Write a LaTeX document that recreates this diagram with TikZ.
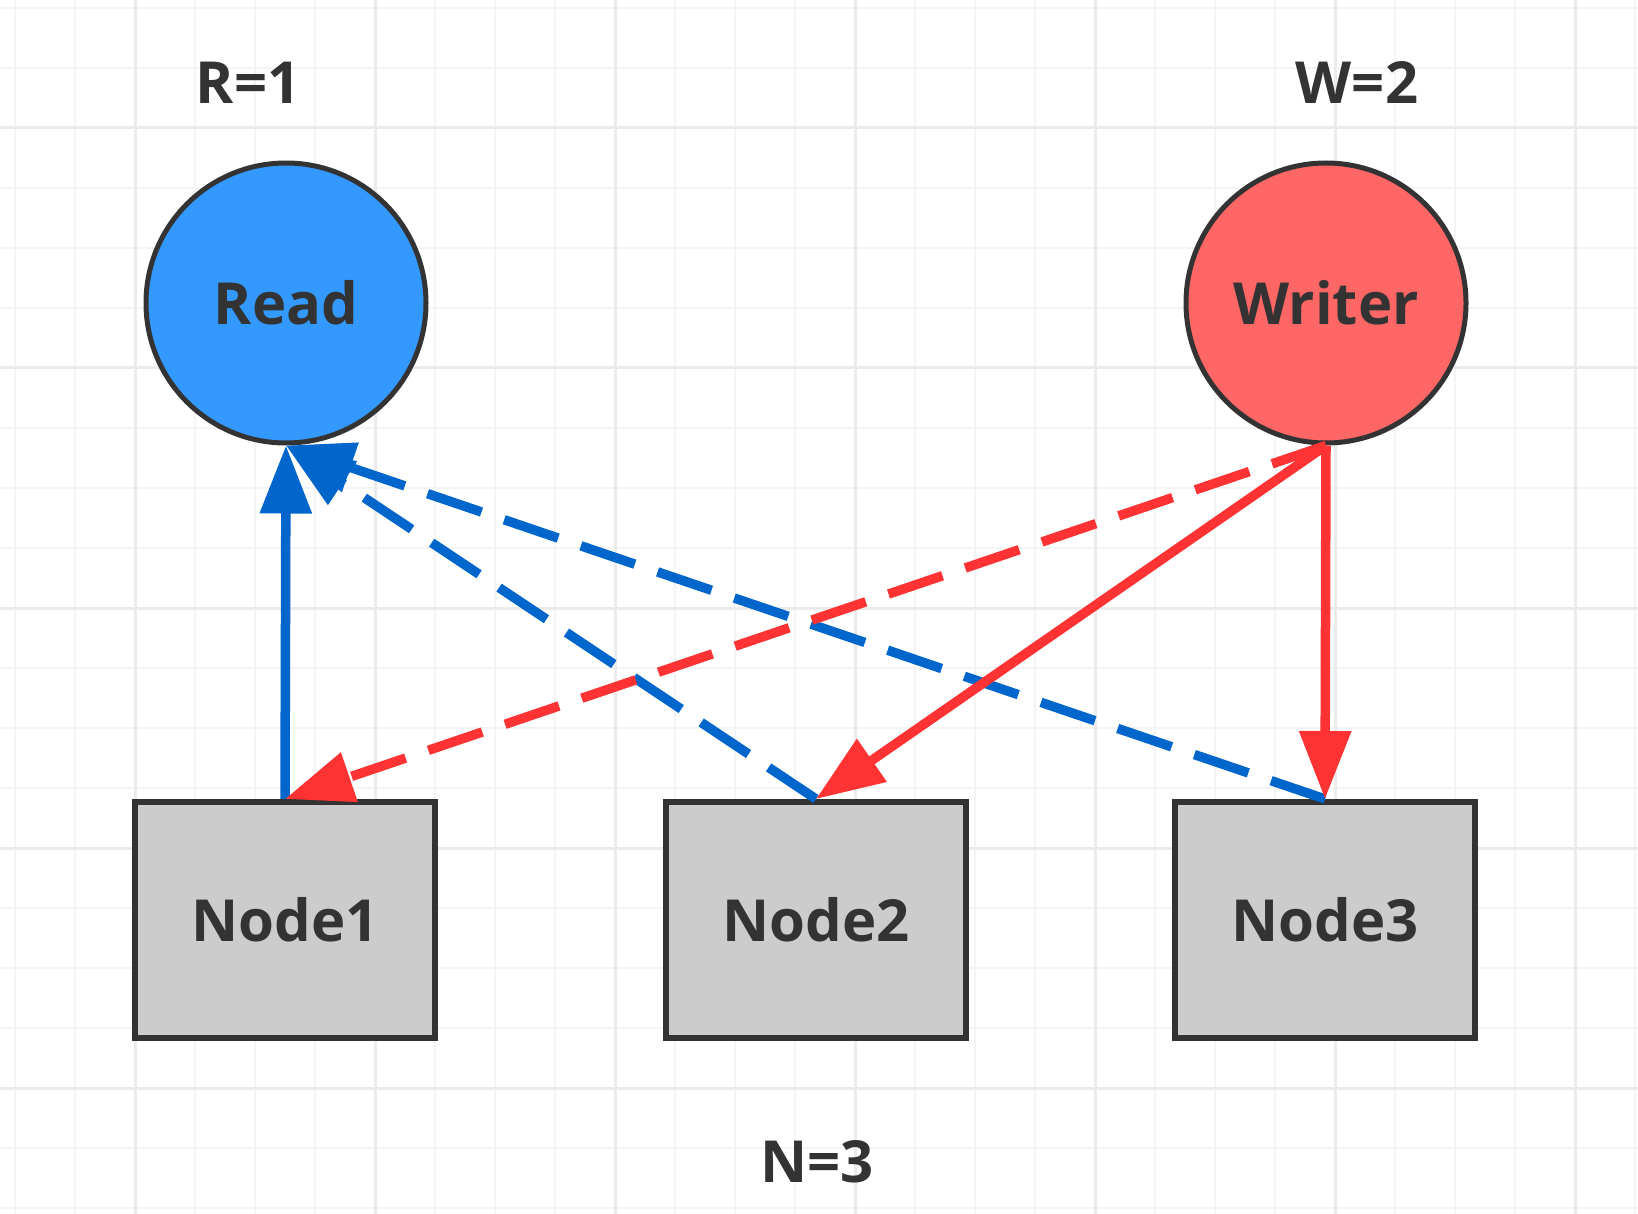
\documentclass[tikz,border=0pt]{standalone}
\usepackage{fontspec}
\setmainfont{Open Sans}
\usetikzlibrary{arrows.meta}

\definecolor{gridminor}{HTML}{F4F4F4}
\definecolor{gridmajor}{HTML}{EBEBEB}
\definecolor{inkdark}{HTML}{333333}
\definecolor{readfill}{HTML}{3399FF}
\definecolor{writefill}{HTML}{FF6666}
\definecolor{nodefill}{HTML}{CCCCCC}
\definecolor{readline}{HTML}{0066CC}
\definecolor{writeline}{HTML}{FF3333}

\tikzset{
  bigtext/.style={font=\fontsize{58}{68}\selectfont\bfseries, text=inkdark},
  actor/.style={circle, draw=inkdark, line width=5pt, minimum size=280pt,
    inner sep=0pt, bigtext},
  replica/.style={rectangle, draw=inkdark, line width=6pt, fill=nodefill,
    minimum width=300pt, minimum height=236pt, inner sep=0pt, bigtext},
  caption/.style={bigtext, inner sep=0pt},
  flow/.style={line width=9.5pt, -{Triangle[length=68pt,width=50pt]}},
  dashflow/.style={flow, dash pattern=on 57pt off 24pt},
}

\begin{document}
\begin{tikzpicture}[x=1pt, y=-1pt]
  % canvas
  \useasboundingbox (0,0) rectangle (1638,1214);
  \fill[white] (0,0) rectangle (1638,1214);

  % background grid
  \foreach \gx in {15,75,...,1635}
    \draw[gridminor, line width=2.5pt] (\gx,0) -- (\gx,1214);
  \foreach \gy in {8,68,...,1214}
    \draw[gridminor, line width=2.5pt] (0,\gy) -- (1638,\gy);
  \foreach \gx in {135,375,...,1635}
    \draw[gridmajor, line width=3pt] (\gx,0) -- (\gx,1214);
  \foreach \gy in {128,368,...,1214}
    \draw[gridmajor, line width=3pt] (0,\gy) -- (1638,\gy);

  % clients
  \node[actor, fill=readfill] (read) at (286,303) {Read};
  \node[actor, fill=writefill] (writer) at (1326,303) {Writer};

  % replicas
  \node[replica] (n1) at (285,920) {Node1};
  \node[replica] (n2) at (816,920) {Node2};
  \node[replica] (n3) at (1325,920) {Node3};

  % quorum labels
  \node[caption] (rlabel) at (248,83) {R=1};
  \node[caption] (wlabel) at (1357,83) {W=2};
  \node[caption] (nlabel) at (817,1162) {N=3};

  % read paths
  \draw[dashflow, readline] (n3.north) -- (read.south);
  \draw[dashflow, readline] (n2.north) -- (read.south);
  \draw[flow, readline] (n1.north) -- (read.south);

  % write paths
  \draw[dashflow, writeline] (writer.south) -- (n1.north);
  \draw[flow, writeline] (writer.south) -- (n2.north);
  \draw[flow, writeline] (writer.south) -- (n3.north);
\end{tikzpicture}
\end{document}
